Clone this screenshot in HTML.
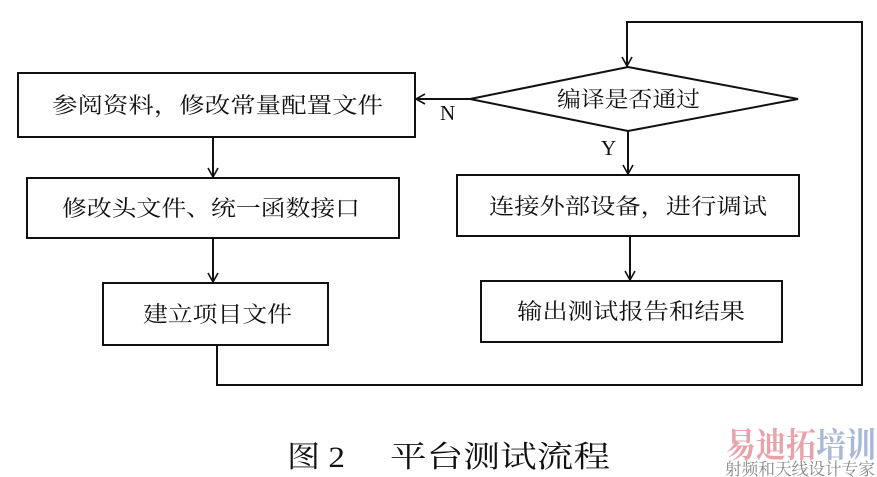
<!DOCTYPE html>
<html><head><meta charset="utf-8"><style>
html,body{margin:0;padding:0;background:#fff;}
svg{display:block;}
text{font-family:"Liberation Serif","Noto Serif CJK SC",serif;fill:#111;}
</style></head><body>
<svg width="877" height="477" viewBox="0 0 877 477" xmlns="http://www.w3.org/2000/svg">
<defs><marker id="a" markerWidth="12" markerHeight="12" refX="10" refY="6" orient="auto" markerUnits="userSpaceOnUse"><path d="M1,1 L10,6 L1,11" fill="none" stroke="#111" stroke-width="1.6"/></marker></defs>
<g stroke="#111" stroke-width="2" fill="none">
<rect x="18" y="73" width="397" height="64"/>
<rect x="27" y="178" width="372" height="60"/>
<rect x="103" y="283" width="225" height="62"/>
<rect x="457" y="175" width="342" height="61"/>
<rect x="481" y="281" width="301" height="61"/>
<polygon points="470,99 628,67 798,99 628,131"/>
<line x1="213" y1="137" x2="213" y2="177" marker-end="url(#a)"/>
<line x1="213" y1="238" x2="213" y2="282" marker-end="url(#a)"/>
<line x1="628" y1="131" x2="628" y2="174" marker-end="url(#a)"/>
<line x1="630" y1="236" x2="630" y2="280" marker-end="url(#a)"/>
<line x1="470" y1="99" x2="416" y2="99" marker-end="url(#a)"/>
<polyline points="217,345 217,385 862,385 862,22 627,22 627,66" marker-end="url(#a)"/>
</g>
<g font-size="22" lengthAdjust="spacingAndGlyphs">
<text x="52" y="113" textLength="331" lengthAdjust="spacingAndGlyphs">参阅资料，修改常量配置文件</text>
<text x="62" y="216" textLength="298" lengthAdjust="spacingAndGlyphs">修改头文件、统一函数接口</text>
<text x="143" y="322" textLength="149" lengthAdjust="spacingAndGlyphs">建立项目文件</text>
<text x="557" y="107" textLength="143" lengthAdjust="spacingAndGlyphs">编译是否通过</text>
<text x="489" y="214" textLength="278" lengthAdjust="spacingAndGlyphs">连接外部设备，进行调试</text>
<text x="517" y="319" textLength="228" lengthAdjust="spacingAndGlyphs">输出测试报告和结果</text>
<text x="440" y="120" font-size="21">N</text>
<text x="601" y="155" font-size="21">Y</text>
</g>
<text x="287" y="467" font-size="30" textLength="58" lengthAdjust="spacingAndGlyphs">图 2</text>
<text x="390" y="467" font-size="30" textLength="220" lengthAdjust="spacingAndGlyphs">平台测试流程</text>
<text x="726" y="457" font-size="34" font-weight="bold" style="fill:#e8a3aa" font-family="Liberation Sans,Noto Sans CJK SC,sans-serif" textLength="150" lengthAdjust="spacingAndGlyphs">易迪拓<tspan style="fill:#a9b8d6">培训</tspan></text>
<text x="725" y="475" font-size="17" style="fill:#888" textLength="150" lengthAdjust="spacingAndGlyphs">射频和天线设计专家</text>
</svg>
</body></html>
